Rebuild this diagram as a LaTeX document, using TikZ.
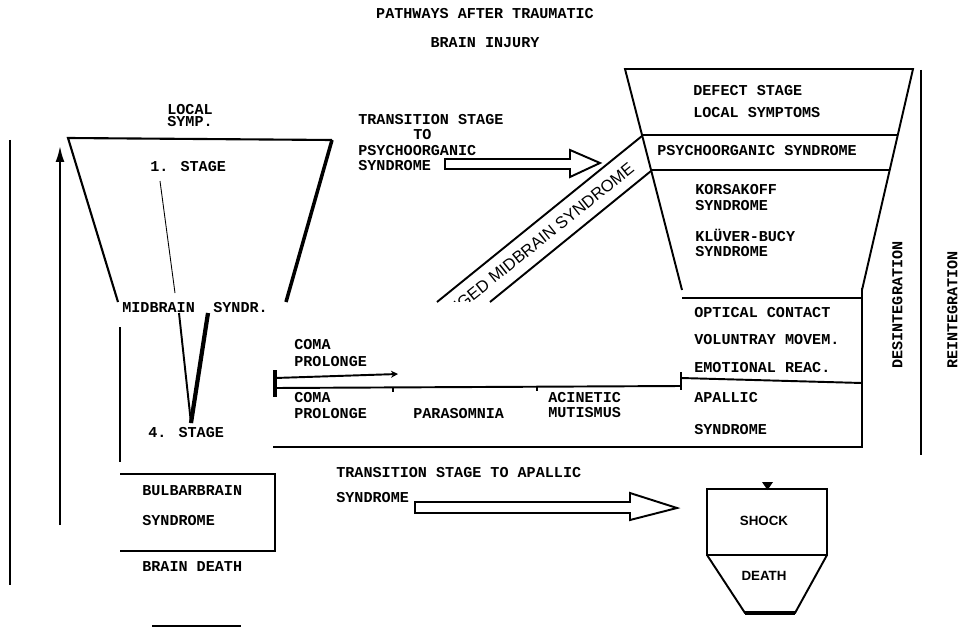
\documentclass[tikz,border=0pt]{standalone}
\usepackage{fontspec}
\setmainfont{Liberation Mono}
\newfontfamily\helv{Liberation Sans}
\usetikzlibrary{arrows.meta}

\tikzset{
    lbl/.style={anchor=west, inner sep=0pt, text height=5pt, text depth=0pt,
        font=\fontsize{8.6}{10}\selectfont\bfseries},
    ctr/.style={lbl, anchor=center},
    wall/.style={solid, line width=1.1pt},
    hair/.style={solid, line width=0.5pt},
    sanslbl/.style={inner sep=0pt, font=\helv\fontsize{7.6}{9}\selectfont\bfseries},
}

\begin{document}
\begin{tikzpicture}[x=0.02cm, y=-0.02cm]

        \useasboundingbox (0,0) rectangle (962,628);

        % left funnel
        \draw[solid, line width=1.2pt]     (118,302) -- (68,138) -- (332,140);
        \draw[solid, line width=2pt]       (332,140) -- (286,302);
        \draw[hair]                        (160,181) -- (175,293);
        \draw[wall]                        (179,313) -- (191,423);
        \draw[solid, line width=2.4pt]     (208,313) -- (191,423);

        % left side bars
        \coordinate (barA) at (10,140);
        \coordinate (barB) at (10,585);
        \coordinate (upA) at (60,525);
        \coordinate (upB) at (60,146);
        \draw[wall] (barA) -- (barB);
        \draw[wall, -{Latex[length=9pt,width=5pt]}] (upA) -- (upB);
        \draw[wall] (120,327) -- (120,462);

        % bulbar box
        \draw[wall] (120,474) -- (275,474) -- (275,551) -- (120,551);
        \draw[wall] (152,626) -- (241,626);

        % horizontal band
        \draw[wall] (273,447) -- (862,447) -- (862,288);
        \draw[wall] (681,378) -- (862,383);
        \draw[wall] (681,372) -- (681,390);
        \draw[wall] (275,388) -- (681,386);
        \draw[wall] (393,388) -- (393,392);
        \draw[wall] (537,387) -- (537,391);
        \draw[solid, line width=2pt] (275,370) -- (275,397);
        \draw[wall, -{Stealth[length=4pt,width=4pt]}] (275,378) -- (398,374);

        % right funnel
        \draw[wall] (682,290) -- (625,69) -- (913,69) -- (862,290);
        \draw[wall] (682,298) -- (862,298);
        \draw[wall] (642,135) -- (898,135);
        \draw[wall] (651,170) -- (890,170);
        \draw[wall] (921,70) -- (921,455);

        % prolonged midbrain band
        \draw[wall] (642,136) -- (437,302);
        \draw[wall] (651,171) -- (490,302);
        \begin{scope}
            \clip (380,0) rectangle (700,301);
            \node[inner sep=0pt, rotate=38.8, anchor=east, font=\helv\fontsize{9.4}{10}\selectfont]
                (prolonged) at (632,166) {PROLONGED MIDBRAIN SYNDROME};
        \end{scope}

        % draw arrows
        \draw[wall] (445,159) -- (570,159) -- (570,150) -- (600,163) -- (570,177)
            -- (570,169) -- (445,169) -- cycle;
        \draw[wall] (415,502) -- (630,502) -- (630,493) -- (677,508) -- (630,520)
            -- (630,513) -- (415,513) -- cycle;

        % shock and death
        \draw[wall] (707,489) rectangle (827,555);
        \draw[wall] (707,555) -- (745,613) -- (795,613) -- (827,555);
        \draw[solid, line width=2pt] (745,613) -- (795,613);
        \fill (762,482) -- (773,482) -- (767.5,490) -- cycle;

        % Add text labels
        \node[ctr] (title1) at (485,14) {PATHWAYS AFTER TRAUMATIC};
        \node[ctr] (title2) at (485,43) {BRAIN INJURY};

        \node[lbl] (local1) at (167,110) {LOCAL};
        \node[lbl] (local2) at (167,122) {SYMP.};
        \node[lbl] (stage1) at (150,167) {1. STAGE};
        \node[lbl] (midbr1) at (122,308) {MIDBRAIN};
        \node[lbl] (midbr2) at (213,308) {SYNDR.};
        \node[lbl] (stage4) at (148,433) {4. STAGE};
        \node[lbl] (bulb1) at (142,491) {BULBARBRAIN};
        \node[lbl] (bulb2) at (142,521) {SYNDROME};
        \node[lbl] (bdeath) at (142,567) {BRAIN DEATH};

        \node[lbl] (trans1) at (358,120) {TRANSITION STAGE};
        \node[lbl] (trans2) at (413,135) {TO};
        \node[lbl] (trans3) at (358,151) {PSYCHOORGANIC};
        \node[lbl] (trans4) at (358,166) {SYNDROME};

        \node[lbl] (defect1) at (693,91) {DEFECT STAGE};
        \node[lbl] (defect2) at (693,113) {LOCAL SYMPTOMS};
        \node[lbl] (psycho) at (657,151) {PSYCHOORGANIC SYNDROME};
        \node[lbl] (kors1) at (695,190) {KORSAKOFF};
        \node[lbl] (kors2) at (695,206) {SYNDROME};
        \node[lbl] (kluv1) at (695,237) {KLÜVER-BUCY};
        \node[lbl] (kluv2) at (695,252) {SYNDROME};

        \node[lbl] (optic) at (694,313) {OPTICAL CONTACT};
        \node[lbl] (volun) at (694,340) {VOLUNTRAY MOVEM.};
        \node[lbl] (emot) at (694,368) {EMOTIONAL REAC.};
        \node[lbl] (apal1) at (694,398) {APALLIC};
        \node[lbl] (apal2) at (694,430) {SYNDROME};

        \node[lbl] (coma1) at (294,345) {COMA};
        \node[lbl] (coma2) at (294,362) {PROLONGE};
        \node[lbl] (coma3) at (294,398) {COMA};
        \node[lbl] (coma4) at (294,414) {PROLONGE};
        \node[lbl] (paras) at (413,414) {PARASOMNIA};
        \node[lbl] (acin1) at (548,398) {ACINETIC};
        \node[lbl] (acin2) at (548,413) {MUTISMUS};

        \node[lbl] (apt1) at (336,473) {TRANSITION STAGE TO APALLIC};
        \node[lbl] (apt2) at (336,498) {SYNDROME};

        \node[sanslbl] (shock) at (764,521) {SHOCK};
        \node[sanslbl] (death) at (764,576) {DEATH};

        \node[ctr, rotate=90] (desint) at (898,305) {DESINTEGRATION};
        \node[ctr, rotate=90] (reint) at (953,310) {REINTEGRATION};
    \end{tikzpicture}
\end{document}
